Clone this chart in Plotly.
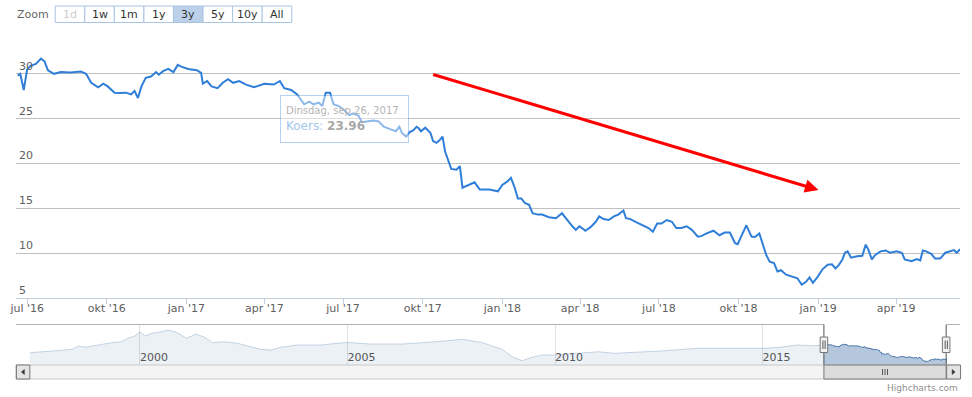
import plotly.graph_objects as go

# ---------------- data ----------------
price_dates = [
    "2016-06-20", "2016-06-23", "2016-06-27", "2016-07-01", "2016-07-05", "2016-07-11", "2016-07-17",
    "2016-07-21", "2016-07-25", "2016-08-01", "2016-08-09", "2016-08-20", "2016-09-01", "2016-09-07",
    "2016-09-13", "2016-09-21", "2016-09-27", "2016-10-02", "2016-10-10", "2016-10-17", "2016-10-23",
    "2016-10-29", "2016-11-02", "2016-11-06", "2016-11-10", "2016-11-15", "2016-11-21", "2016-11-27",
    "2016-11-30", "2016-12-05", "2016-12-11", "2016-12-17", "2016-12-22", "2016-12-26", "2017-01-03",
    "2017-01-13", "2017-01-18", "2017-01-20", "2017-01-25", "2017-01-30", "2017-02-06", "2017-02-12",
    "2017-02-18", "2017-02-24", "2017-03-03", "2017-03-11", "2017-03-20", "2017-04-01", "2017-04-12",
    "2017-04-19", "2017-04-24", "2017-05-02", "2017-05-09", "2017-05-17", "2017-05-23", "2017-05-28",
    "2017-06-03", "2017-06-07", "2017-06-11", "2017-06-16", "2017-06-20", "2017-06-26", "2017-07-02",
    "2017-07-08", "2017-07-13", "2017-07-19", "2017-07-23", "2017-07-29", "2017-08-05", "2017-08-11",
    "2017-08-17", "2017-08-25", "2017-08-31", "2017-09-04", "2017-09-07", "2017-09-12", "2017-09-16",
    "2017-09-20", "2017-09-24", "2017-09-26", "2017-09-29", "2017-10-04", "2017-10-10", "2017-10-13",
    "2017-10-17", "2017-10-21", "2017-10-24", "2017-10-27", "2017-10-30", "2017-11-03", "2017-11-09",
    "2017-11-13", "2017-11-16", "2017-11-22", "2017-11-30", "2017-12-06", "2017-12-17", "2017-12-27",
    "2018-01-01", "2018-01-07", "2018-01-11", "2018-01-15", "2018-01-19", "2018-01-23", "2018-01-27",
    "2018-02-01", "2018-02-05", "2018-02-11", "2018-02-16", "2018-02-24", "2018-03-04", "2018-03-11",
    "2018-03-17", "2018-03-23", "2018-03-27", "2018-03-31", "2018-04-03", "2018-04-07", "2018-04-13",
    "2018-04-19", "2018-04-23", "2018-04-28", "2018-05-04", "2018-05-10", "2018-05-15", "2018-05-21",
    "2018-05-24", "2018-05-29", "2018-06-04", "2018-06-11", "2018-06-19", "2018-06-24", "2018-06-29",
    "2018-07-04", "2018-07-10", "2018-07-16", "2018-07-21", "2018-07-27", "2018-08-02", "2018-08-08",
    "2018-08-15", "2018-08-19", "2018-08-25", "2018-09-02", "2018-09-09", "2018-09-15", "2018-09-21",
    "2018-09-27", "2018-09-30", "2018-10-04", "2018-10-10", "2018-10-16", "2018-10-20", "2018-10-25",
    "2018-10-29", "2018-11-02", "2018-11-06", "2018-11-11", "2018-11-15", "2018-11-19", "2018-11-25",
    "2018-12-02", "2018-12-08", "2018-12-13", "2018-12-18", "2018-12-22", "2018-12-26", "2018-12-31",
    "2019-01-06", "2019-01-12", "2019-01-17", "2019-01-21", "2019-01-25", "2019-01-29", "2019-02-01",
    "2019-02-04", "2019-02-08", "2019-02-15", "2019-02-21", "2019-02-25", "2019-02-28", "2019-03-04",
    "2019-03-08", "2019-03-14", "2019-03-20", "2019-03-25", "2019-04-02", "2019-04-08", "2019-04-11",
    "2019-04-19", "2019-04-25", "2019-04-29", "2019-05-02", "2019-05-06", "2019-05-12", "2019-05-16",
    "2019-05-22", "2019-05-28", "2019-06-02", "2019-06-07", "2019-06-10", "2019-06-14",
]
price_values = [
    29.8, 30.0, 28.2, 30.5, 30.9, 31.1, 31.7,
    31.4, 30.4, 30.0, 30.2, 30.15, 30.25, 30.0,
    29.0, 28.5, 28.9, 28.6, 27.9, 27.85, 27.9,
    27.7, 28.1, 27.3, 28.6, 29.55, 29.7, 30.2,
    29.9, 30.3, 30.55, 30.2, 31.0, 30.8, 30.55,
    30.4, 30.1, 28.9, 29.2, 28.6, 28.4, 29.0,
    29.4, 29.0, 29.2, 28.8, 28.5, 28.9, 28.8,
    29.2, 28.4, 28.2, 27.7, 26.6, 26.9, 26.6,
    26.8, 26.4, 27.9, 27.9, 26.6, 26.4, 26.0,
    25.4, 25.6, 25.3, 24.6, 24.7, 24.8, 24.7,
    24.1, 23.8, 23.6, 24.1, 23.4, 23.0, 23.5,
    23.7, 24.1, 23.96, 23.6, 24.0, 23.4, 22.5,
    22.3, 22.65, 23.0, 21.3, 20.4, 19.4, 19.3,
    19.7, 17.3, 17.55, 17.9, 17.1, 17.1, 16.9,
    17.6, 18.0, 18.4, 17.4, 16.1, 16.1, 15.6,
    15.4, 14.45, 14.3, 14.3, 14.0, 13.9, 14.45,
    13.7, 13.0, 12.6, 13.0, 12.8, 12.5, 12.9,
    13.5, 14.1, 13.8, 13.7, 14.1, 14.3, 14.75,
    13.9, 13.8, 13.5, 13.2, 12.8, 12.4, 13.3,
    13.3, 13.7, 13.5, 12.8, 12.8, 13.0, 12.6,
    11.85, 11.9, 12.2, 12.5, 12.0, 12.3, 12.3,
    11.1, 11.0, 11.85, 13.1, 11.85, 11.8, 12.2,
    11.1, 9.8, 9.05, 8.9, 7.95, 8.1, 7.6,
    7.4, 7.2, 6.5, 6.8, 7.3, 6.7, 7.3,
    8.2, 8.7, 8.75, 8.3, 8.7, 9.3, 10.05,
    10.2, 9.5, 9.65, 9.7, 10.95, 10.4, 9.3,
    9.8, 10.2, 10.3, 10.05, 10.2, 10.0, 9.3,
    9.1, 9.35, 9.2, 10.3, 10.2, 9.9, 9.4,
    9.4, 10.05, 10.2, 10.35, 10.05, 10.45,
]

# longer history, only visible in the navigator
history_dates = [
    "1997-05-07", "1997-07-27", "1997-12-20", "1998-05-15", "1998-07-10", "1998-09-06", "1998-12-30",
    "1999-04-27", "1999-07-23", "1999-09-16", "1999-11-17", "2000-01-01", "2000-02-14", "2000-04-12",
    "2000-07-08", "2000-09-01", "2000-11-01", "2000-12-15", "2001-02-13", "2001-05-11", "2001-07-23",
    "2001-10-01", "2002-01-12", "2002-05-08", "2002-09-02", "2002-11-28", "2003-02-25", "2003-05-23",
    "2003-10-16", "2004-05-07", "2004-09-28", "2005-01-03", "2005-07-17", "2006-05-04", "2007-02-17",
    "2007-10-11", "2008-04-02", "2008-06-28", "2008-09-23", "2008-12-19", "2009-03-17", "2009-06-13",
    "2009-09-09", "2010-01-04", "2010-08-25", "2011-01-18", "2011-06-10", "2011-11-02", "2012-08-21",
    "2013-06-09", "2013-12-28", "2014-08-17", "2015-01-11", "2015-06-07", "2015-10-29", "2016-03-25",
]
history_values = [
    19.3, 20.6, 22.0, 24.0, 28.6, 26.8, 30.0,
    33.2, 34.5, 39.3, 42.5, 48.4, 42.5, 46.2,
    48.4, 50.8, 48.4, 45.3, 39.3, 45.3, 40.7,
    33.2, 34.5, 32.3, 27.6, 24.0, 23.0, 26.8,
    30.0, 30.0, 32.3, 33.5, 31.4, 31.4, 34.5,
    37.9, 33.2, 28.6, 24.0, 13.7, 8.1, 12.9,
    16.1, 16.1, 18.4, 20.6, 18.4, 19.3, 22.0,
    25.4, 25.4, 25.4, 25.4, 26.8, 30.0, 29.0,
]

x_tick_dates = ["2016-07-01", "2016-10-01", "2017-01-01", "2017-04-01", "2017-07-01", "2017-10-01",
                "2018-01-01", "2018-04-01", "2018-07-01", "2018-10-01", "2019-01-01", "2019-04-01"]
x_tick_labels = ["jul '16", "okt '16", "jan '17", "apr '17", "jul '17", "okt '17",
                 "jan '18", "apr '18", "jul '18", "okt '18", "jan '19", "apr '19"]
y_tick_values = [5, 10, 15, 20, 25, 30, 35]
y_tick_labels = ["5", "10", "15", "20", "25", "30", ""]
nav_tick_dates = ["2000-01-01", "2005-01-01", "2010-01-01", "2015-01-01"]
nav_tick_labels = ["2000", "2005", "2010", "2015"]
zoom_buttons = ["1d", "1w", "1m", "1y", "3y", "5y", "10y", "All"]
selected_button = "3y"
disabled_button = "1d"
view_start = "2016-06-18"
tooltip_date_label = "Dinsdag, sep 26, 2017"
tooltip_series = "Koers"
tooltip_value = 23.96
credits_text = "Highcharts.com"

# ---------------- layout helpers (pixel -> paper) ----------------
W, H = 972, 397
FONT = "DejaVu Sans, Verdana, sans-serif"


def fx(p):
    return p / W


def fy(p):
    return 1 - p / H


def prect(x0, y0, x1, y1, fill, line, lw=1):
    return dict(type="rect", xref="paper", yref="paper", x0=fx(x0), x1=fx(x1), y0=fy(y1), y1=fy(y0),
                fillcolor=fill, line=dict(color=line, width=lw), layer="above")


def pline(x0, y0, x1, y1, color, lw=1):
    return dict(type="line", xref="paper", yref="paper", x0=fx(x0), x1=fx(x1), y0=fy(y0), y1=fy(y1),
                line=dict(color=color, width=lw), layer="above")


def ppath(points, fill):
    d = "M " + " L ".join(f"{fx(a):.5f},{fy(b):.5f}" for a, b in points) + " Z"
    return dict(type="path", xref="paper", yref="paper", path=d, fillcolor=fill,
                line=dict(color=fill, width=0.5), layer="above")


fig = go.Figure()

# main price line
fig.add_trace(go.Scatter(
    x=price_dates, y=price_values, mode="lines",
    line=dict(color="#2f7ed8", width=2), xaxis="x", yaxis="y",
    hoverinfo="skip", showlegend=False,
))

# navigator: faded (unselected) history and highlighted selected range
fig.add_trace(go.Scatter(
    x=history_dates + price_dates[:1], y=history_values + price_values[:1], mode="lines",
    line=dict(color="rgba(69,114,167,0.28)", width=1), fill="tozeroy",
    fillcolor="rgba(69,114,167,0.1)",
    xaxis="x2", yaxis="y2", hoverinfo="skip", showlegend=False,
))
fig.add_trace(go.Scatter(
    x=price_dates, y=price_values, mode="lines",
    line=dict(color="#4572a7", width=1), fill="tozeroy", fillcolor="rgba(69,114,167,0.4)",
    xaxis="x2", yaxis="y2", hoverinfo="skip", showlegend=False,
))

shapes = []
# navigator outline
NAV_TOP, NAV_BOT = 324.5, 365
SEL_L, SEL_R = 823, 946
shapes.append(pline(10, NAV_TOP, SEL_L, NAV_TOP, "#b2b1b6"))
shapes.append(pline(SEL_L, NAV_TOP, SEL_L, NAV_BOT, "#555555"))
shapes.append(pline(SEL_R, NAV_BOT, SEL_R, NAV_TOP, "#555555"))
shapes.append(pline(SEL_R, NAV_TOP, 960, NAV_TOP, "#b2b1b6"))

# scrollbar
shapes.append(prect(10, 365, 960, 379, "#f4f4f4", "#c8c8c8"))
shapes.append(prect(10.5, 365, 24, 379, "#e4e4e4", "#777777"))
shapes.append(prect(946.5, 365, 960.5, 379, "#e4e4e4", "#777777"))
shapes.append(ppath([(18.5, 369.5), (18.5, 374.5), (15.5, 372)], "#333333"))
shapes.append(ppath([(952, 369.5), (952, 374.5), (955, 372)], "#333333"))
shapes.append(prect(SEL_L, 365, SEL_R, 379, "#dcdcdc", "#777777"))
for gx in (882, 884.5, 887):
    shapes.append(pline(gx, 369, gx, 375, "#555555"))

# navigator handles
for hx in (SEL_L, SEL_R):
    shapes.append(prect(hx - 3.8, 337, hx + 3.8, 352.5, "#f2f2f2", "#777777"))
    shapes.append(pline(hx - 1, 340.5, hx - 1, 349, "#555555"))
    shapes.append(pline(hx + 1.2, 340.5, hx + 1.2, 349, "#555555"))

annotations = []
# y-axis labels, placed just above their grid lines (Highcharts style)
for v, lab in zip(y_tick_values, y_tick_labels):
    if lab:
        annotations.append(dict(text=lab, x=fx(11), y=v, xref="paper", yref="y",
                                xanchor="left", yanchor="bottom", showarrow=False, yshift=-1,
                                font=dict(family=FONT, size=11, color="#606060")))

# range selector buttons
BTN_X0, BTN_W, BTN_Y0, BTN_Y1 = 49.5, 29.75, 6, 22.5
for i, lab in enumerate(zoom_buttons):
    x0 = BTN_X0 + i * BTN_W
    fill = "#bcd0ea" if lab == selected_button else "#ffffff"
    shapes.append(prect(x0, BTN_Y0, x0 + BTN_W, BTN_Y1, fill, "#a9c3e2"))
    annotations.append(dict(
        text=lab, x=fx(x0 + BTN_W / 2), y=fy((BTN_Y0 + BTN_Y1) / 2), xref="paper", yref="paper",
        xanchor="center", yanchor="middle", showarrow=False,
        font=dict(family=FONT, size=11, color="#cccccc" if lab == disabled_button else "#333333"),
    ))
annotations.append(dict(text="Zoom", x=fx(9), y=fy(14.5), xref="paper", yref="paper",
                        xanchor="left", yanchor="middle", showarrow=False,
                        font=dict(family=FONT, size=11, color="#666666")))

# faded tooltip
annotations.append(dict(
    text=(f"<span style='font-size:10px;color:#b4b4b4'>{tooltip_date_label}</span><br>"
          f"<span style='color:#a3c6ee'>{tooltip_series}: </span>"
          f"<span style='color:#a8a8a8'><b>{tooltip_value:.2f}</b></span>"),
    x=fx(276), y=fy(95), xref="paper", yref="paper", xanchor="left", yanchor="top",
    align="left", valign="middle", width=117, height=36, borderpad=5,
    bgcolor="rgba(255,255,255,0.45)", bordercolor="rgba(47,126,216,0.35)", borderwidth=1,
    showarrow=False, font=dict(family=FONT, size=12, color="#a8a8a8"),
))

# red trend arrow
annotations.append(dict(
    text="", x=fx(817.5), y=fy(190), xref="paper", yref="paper",
    ax=430.7 - 817.5, ay=74 - 190, axref="pixel", ayref="pixel",
    showarrow=True, arrowhead=2, arrowsize=0.9, arrowwidth=3, arrowcolor="#ff0000", standoff=0,
))

# credits
annotations.append(dict(text=credits_text, x=fx(960), y=fy(388), xref="paper", yref="paper",
                        xanchor="right", yanchor="middle", showarrow=False,
                        font=dict(family=FONT, size=9, color="#909090")))

fig.update_layout(
    width=W, height=H, margin=dict(l=0, r=0, t=0, b=0),
    paper_bgcolor="white", plot_bgcolor="white", showlegend=False,
    font=dict(family=FONT, size=11, color="#666666"),
    xaxis=dict(domain=[fx(10), fx(960)], range=[view_start, price_dates[-1]], type="date", anchor="y",
               tickmode="array", tickvals=x_tick_dates, ticktext=x_tick_labels,
               ticks="outside", ticklen=5, tickcolor="#c0d0e0", ticklabelstandoff=-5,
               showline=True, linecolor="#c0d0e0", linewidth=1, showgrid=False, zeroline=False,
               tickfont=dict(family=FONT, size=11, color="#606060")),
    yaxis=dict(domain=[fy(298), fy(29)], range=[5, 35], anchor="x",
               tickmode="array", tickvals=y_tick_values, showticklabels=False, ticks="",
               showgrid=True, gridcolor="#c0c0c0", gridwidth=1, zeroline=False, showline=False),
    xaxis2=dict(domain=[fx(24), fx(947)], range=[history_dates[0], price_dates[-1]], type="date",
                anchor="y2", tickmode="array", tickvals=nav_tick_dates, ticktext=nav_tick_labels,
                ticklabelposition="inside right", ticklabelstandoff=-4, ticks="", showgrid=True,
                gridcolor="#e3e3e3", showline=False, zeroline=False,
                tickfont=dict(family=FONT, size=11, color="#555555")),
    yaxis2=dict(domain=[fy(NAV_BOT), fy(NAV_TOP)], range=[2.16, 58.5], anchor="x2",
                showticklabels=False, showgrid=False, zeroline=False, showline=False),
    shapes=shapes, annotations=annotations,
)

fig.write_html(
    "out.html",
    config={"displayModeBar": False},
    post_script="document.body.style.margin='0px';document.body.style.padding='0px';"
                "document.body.style.overflow='hidden';",
)
